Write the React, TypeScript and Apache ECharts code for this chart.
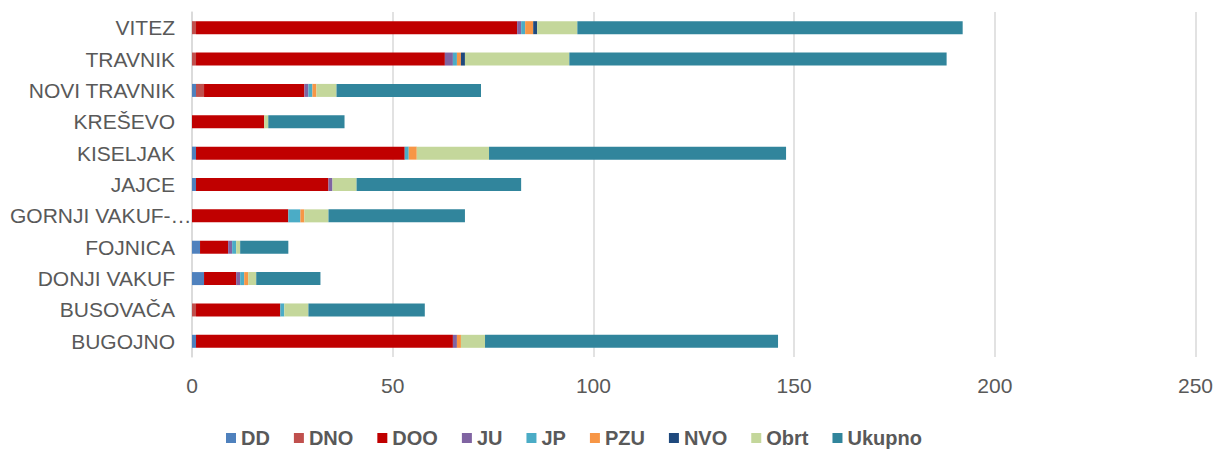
import React, { useEffect, useRef } from "react";
import * as echarts from "echarts";

const categories = [
  "VITEZ",
  "TRAVNIK",
  "NOVI TRAVNIK",
  "KREŠEVO",
  "KISELJAK",
  "JAJCE",
  "GORNJI VAKUF-USKOPLJE",
  "FOJNICA",
  "DONJI VAKUF",
  "BUSOVAČA",
  "BUGOJNO",
];

const seriesNames = ["DD", "DNO", "DOO", "JU", "JP", "PZU", "NVO", "Obrt", "Ukupno"];
const seriesColors = ["#4f81bd", "#c0504d", "#c00000", "#8064a2", "#4bacc6", "#f79646", "#1f497d", "#c4d79b", "#31859c"];

const DD = [0, 0, 1, 0, 1, 1, 0, 2, 3, 0, 1];
const DNO = [1, 1, 2, 0, 0, 0, 0, 0, 0, 1, 0];
const DOO = [80, 62, 25, 18, 52, 33, 24, 7, 8, 21, 64];
const JU = [1, 2, 1, 0, 0, 1, 0, 1, 1, 0, 1];
const JP = [1, 1, 1, 0, 1, 0, 3, 1, 1, 1, 0];
const PZU = [2, 1, 1, 0, 2, 0, 1, 0, 1, 0, 1];
const NVO = [1, 1, 0, 0, 0, 0, 0, 0, 0, 0, 0];
const Obrt = [10, 26, 5, 1, 18, 6, 6, 1, 2, 6, 6];
const Ukupno = [96, 94, 36, 19, 74, 41, 34, 12, 16, 29, 73];

const seriesData = [DD, DNO, DOO, JU, JP, PZU, NVO, Obrt, Ukupno];

const xTicks = { min: 0, max: 250, interval: 50 };

export default function App() {
  const ref = useRef<HTMLDivElement>(null);
  useEffect(() => {
    document.body.style.margin = "0";
    const chart = echarts.init(ref.current!, null, { renderer: "svg" });
    const font = "'Liberation Sans', Arial, sans-serif";
    chart.setOption({
      animation: false,
      textStyle: { fontFamily: font },
      grid: { left: 192, right: 19, top: 12, bottom: 92, containLabel: false },
      legend: {
        top: 428,
        left: 226,
        padding: 0,
        itemWidth: 10,
        itemHeight: 10,
        itemGap: 24,
        icon: "rect",
        textStyle: { fontSize: 20, fontWeight: "bold", color: "#595959", fontFamily: font },
        data: seriesNames,
      },
      xAxis: {
        type: "value",
        min: xTicks.min,
        max: xTicks.max,
        interval: xTicks.interval,
        axisLine: { show: false },
        axisTick: { show: false },
        splitLine: { show: true, lineStyle: { color: "#d9d9d9", width: 1.5 } },
        axisLabel: { fontSize: 21, color: "#595959", margin: 18, fontFamily: font },
      },
      yAxis: {
        type: "category",
        data: categories,
        inverse: true,
        axisLine: { show: true, lineStyle: { color: "#d9d9d9", width: 1.5 } },
        axisTick: { show: false },
        axisLabel: {
          fontSize: 21,
          color: "#595959",
          margin: 17,
          fontFamily: font,
          formatter: (v: string) => (v.length > 15 ? "{long|" + v.slice(0, 13) + "…}" : v),
          rich: {
            long: { width: 165, align: "left", fontSize: 21, color: "#595959", fontFamily: font },
          },
        },
      },
      series: seriesNames.map((name, i) => ({
        name,
        type: "bar",
        stack: "total",
        barWidth: 13,
        itemStyle: { color: seriesColors[i] },
        data: seriesData[i],
      })),
    });
    return () => chart.dispose();
  }, []);
  return <div ref={ref} style={{ width: 1216, height: 449 }} />;
}
